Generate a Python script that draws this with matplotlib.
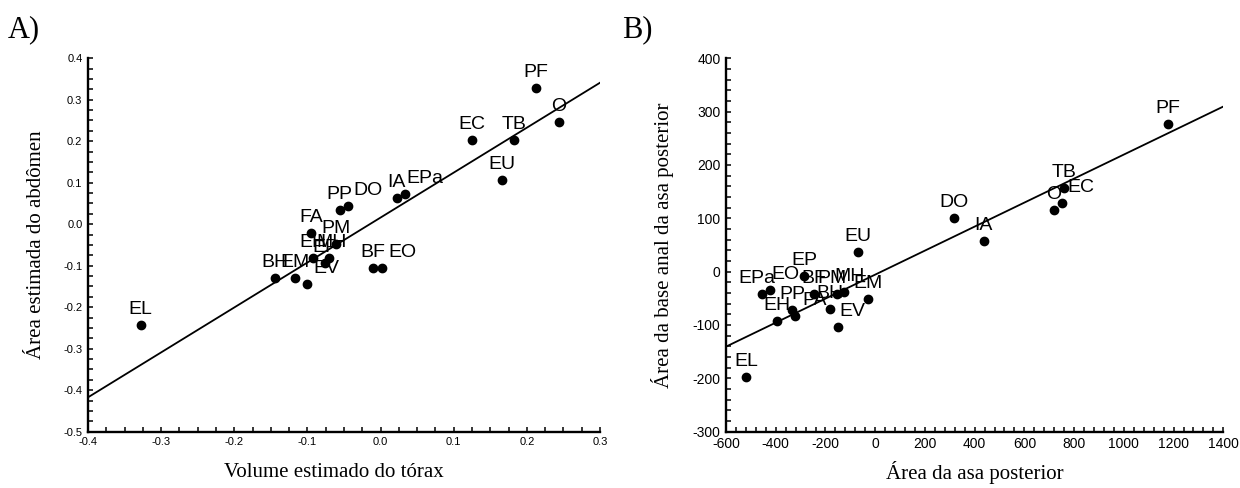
# Gráficos de dispersão com reta de regressão (A e B)

import matplotlib
matplotlib.use('Agg')

import numpy as np
import matplotlib.pyplot as plt
from matplotlib.ticker import MultipleLocator, FormatStrFormatter

plt.rcParams['font.family'] = ['Liberation Sans', 'DejaVu Sans']
plt.rcParams['axes.unicode_minus'] = False

# Painel A: volume do tórax x área do abdômen
rotulos_a = ['PF', 'O', 'EC', 'TB', 'EU', 'IA', 'EPa', 'DO', 'PP', 'FA',
             'PM', 'EH', 'MH', 'EP', 'EV', 'BH', 'EM', 'BF', 'EO', 'EL']
torax = [0.212, 0.244, 0.125, 0.182, 0.166, 0.022, 0.033, -0.044, -0.056, -0.095,
         -0.061, -0.093, -0.071, -0.076, -0.101, -0.144, -0.117, -0.010, 0.002, -0.328]
abdomen = [0.328, 0.246, 0.203, 0.203, 0.107, 0.062, 0.073, 0.044, 0.034, -0.022,
           -0.048, -0.082, -0.082, -0.094, -0.145, -0.130, -0.130, -0.106, -0.106, -0.243]
reta_a = (1.083, 0.016)  # inclinação, intercepto

# Painel B: área da asa posterior x área da base anal
rotulos_b = ['EL', 'EPa', 'EO', 'EH', 'PP', 'PA', 'EP', 'BF', 'BH', 'PM',
             'MH', 'EV', 'EM', 'EU', 'DO', 'IA', 'O', 'EC', 'TB', 'PF']
asa = [-520, -454, -422, -396, -333, -323, -285, -246, -182, -155,
       -126, -149, -28, -68, 317, 437, 719, 752, 759, 1176]
base_anal = [-197, -42, -34, -92, -72, -84, -9, -42, -70, -42,
             -39, -103, -51, 36, 100, 58, 116, 129, 156, 276]
reta_b = (0.225, -5.6)

# deslocamentos horizontais dos rótulos (pixels), o resto fica centrado acima
desloc_a = {'DO': 20, 'EPa': 20, 'EO': 20, 'EV': 20, 'MH': 3}
desloc_b = {'EPa': -5, 'EO': 15, 'PA': 20, 'PM': -5, 'MH': 6, 'EV': 14, 'EC': 19}

serif = ['Liberation Serif', 'DejaVu Serif']

fig = plt.figure(figsize=(12.4, 4.88), dpi=100)
ax_a = fig.add_axes([88 / 1240, 56.3 / 488, 512 / 1240, 373.5 / 488])
ax_b = fig.add_axes([726 / 1240, 56.3 / 488, 497.3 / 1240, 373.5 / 488])


def desenha(ax, x, y, rotulos, desloc, reta, xlim, ylim, maior, menor, fmt, fs_ticks):
    xs = np.array(xlim)
    ax.plot(xs, reta[0] * xs + reta[1], color='black', lw=1.3, zorder=2)
    ax.plot(x, y, 'o', color='black', ms=6, zorder=3)
    for xi, yi, r in zip(x, y, rotulos):
        ax.annotate(r, (xi, yi), xytext=(desloc.get(r, 0), 11), textcoords='offset pixels',
                    ha='center', va='baseline', fontsize=14, zorder=4)
    ax.set_xlim(*xlim)
    ax.set_ylim(*ylim)
    ax.xaxis.set_major_locator(MultipleLocator(maior[0]))
    ax.xaxis.set_minor_locator(MultipleLocator(menor[0]))
    ax.yaxis.set_major_locator(MultipleLocator(maior[1]))
    ax.yaxis.set_minor_locator(MultipleLocator(menor[1]))
    ax.xaxis.set_major_formatter(FormatStrFormatter(fmt))
    ax.yaxis.set_major_formatter(FormatStrFormatter(fmt))
    for lado in ['top', 'right']:
        ax.spines[lado].set_visible(False)
    for lado in ['left', 'bottom']:
        ax.spines[lado].set_linewidth(1.7)
    ax.tick_params(which='both', direction='in', length=3.5, width=1.1,
                   labelsize=fs_ticks, pad=4)


desenha(ax_a, torax, abdomen, rotulos_a, desloc_a, reta_a, (-0.4, 0.3), (-0.5, 0.4),
        (0.1, 0.1), (0.025, 0.025), '%.1f', 8)
desenha(ax_b, asa, base_anal, rotulos_b, desloc_b, reta_b, (-600, 1400), (-300, 400),
        (200, 100), (40, 20), '%d', 10)

ax_a.set_xlabel('Volume estimado do tórax', family=serif, fontsize=15, va='center')
ax_a.set_ylabel('Área estimada do abdômen', family=serif, fontsize=15, va='center')
ax_a.xaxis.set_label_coords(0.48, -0.11)
ax_a.yaxis.set_label_coords(-0.1, 0.5)

ax_b.set_xlabel('Área da asa posterior', family=serif, fontsize=15, va='center')
ax_b.set_ylabel('Área da base anal da asa posterior', family=serif, fontsize=15, va='center')
ax_b.xaxis.set_label_coords(0.5, -0.11)
ax_b.yaxis.set_label_coords(-0.127, 0.5)

fig.text(8 / 1240, 1 - 37 / 488, 'A)', family=serif, fontsize=22, va='baseline')
fig.text(622 / 1240, 1 - 37 / 488, 'B)', family=serif, fontsize=22, va='baseline')

fig.savefig('out.png', dpi=100)
